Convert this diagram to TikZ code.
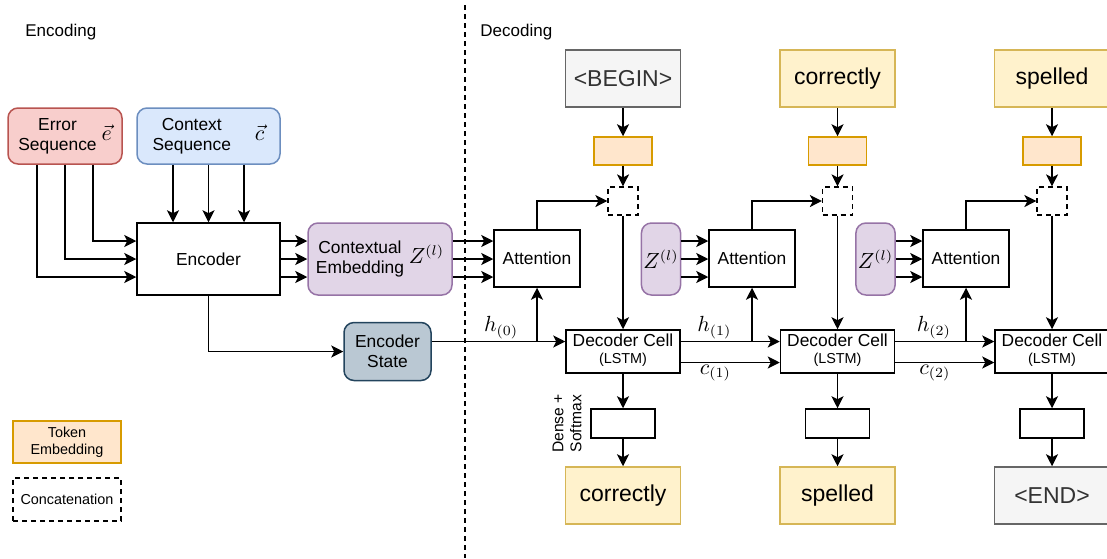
\documentclass[tikz,border=0pt]{standalone}
\usepackage{amsmath}
\usepackage{fontspec}
\setmainfont{Liberation Sans}
\usepackage{tikz}
\usetikzlibrary{arrows.meta,calc}

\definecolor{errfill}{HTML}{F8CECC}
\definecolor{errdraw}{HTML}{B85450}
\definecolor{ctxfill}{HTML}{DAE8FC}
\definecolor{ctxdraw}{HTML}{6C8EBF}
\definecolor{embfill}{HTML}{E1D5E7}
\definecolor{embdraw}{HTML}{9673A6}
\definecolor{tokfill}{HTML}{FFE6CC}
\definecolor{tokdraw}{HTML}{D79B00}
\definecolor{wrdfill}{HTML}{FFF2CC}
\definecolor{wrddraw}{HTML}{D6B656}
\definecolor{spcfill}{HTML}{F5F5F5}
\definecolor{spcdraw}{HTML}{666666}
\definecolor{stfill}{HTML}{BAC8D3}
\definecolor{stdraw}{HTML}{23445D}

\begin{document}
\begin{tikzpicture}[x=0.5pt,y=-0.5pt,
    box/.style={draw,line width=0.75pt,inner sep=1pt,align=center,font=\fontsize{8.7}{10}\selectfont},
    rbox/.style={box,rounded corners=5pt},
    wordbox/.style={box,minimum width=57.5pt,minimum height=28.5pt,font=\fontsize{11.5}{13}\selectfont},
    tokbox/.style={draw=tokdraw,fill=tokfill,line width=0.75pt,minimum width=29pt,minimum height=14pt},
    catbox/.style={draw,line width=0.6pt,dash pattern=on 2.5pt off 2pt,minimum width=15pt,minimum height=14pt},
    cellbox/.style={box,minimum width=57pt,minimum height=21.5pt},
    attbox/.style={box,minimum width=43pt,minimum height=28.5pt},
    zbox/.style={rbox,draw=embdraw,fill=embfill,minimum width=19pt,minimum height=36pt,font=\fontsize{10.5}{11}\selectfont},
    densebox/.style={box,minimum width=32pt,minimum height=14.5pt},
    conn/.style={line width=0.75pt,-{Stealth[length=6pt,width=6pt,inset=1.5pt]}},
    lbl/.style={font=\fontsize{10.5}{11}\selectfont,inner sep=1pt}
  ]
    \useasboundingbox (0,0) rectangle (1107,558);

    % Section titles and separator
    \node[anchor=west,inner sep=0pt,font=\fontsize{8.5}{9}\selectfont] (enctitle) at (25,32) {Encoding};
    \node[anchor=west,inner sep=0pt,font=\fontsize{8.5}{9}\selectfont] (dectitle) at (480,32) {Decoding};
    \draw[line width=0.6pt,dash pattern=on 2.5pt off 2pt] (465,5) -- (465,558);

    % Encoding side
    \node[rbox,draw=errdraw,fill=errfill,minimum width=57pt,minimum height=28pt] (errseq) at (65,136)
        {\begin{tabular}{@{}c@{}}Error\\Sequence\end{tabular}~{\fontsize{10.5}{11}\selectfont$\vec{e}$}};
    \node[rbox,draw=ctxdraw,fill=ctxfill,minimum width=71.5pt,minimum height=28pt] (ctxseq) at (208.5,136)
        {\begin{tabular}{@{}c@{}}Context\\Sequence\end{tabular}\hspace{12pt}{\fontsize{10.5}{11}\selectfont$\vec{c}$}};
    \node[box,minimum width=71.5pt,minimum height=36pt] (enc) at (208.5,259) {Encoder};
    \node[rbox,draw=embdraw,fill=embfill,minimum width=72pt,minimum height=36pt] (ctxemb) at (380,259)
        {\begin{tabular}{@{}c@{}}Contextual\\Embedding\end{tabular}~{\fontsize{10.5}{11}\selectfont$Z^{(l)}$}};
    \node[rbox,draw=stdraw,fill=stfill,minimum width=43.5pt,minimum height=29pt] (encst) at (387.5,351.5)
        {Encoder\\State};

    % Error sequence into encoder
    \draw[conn] ([xshift=14pt]errseq.south) |- ([yshift=9pt]enc.west);
    \draw[conn] (errseq.south) |- (enc.west);
    \draw[conn] ([xshift=-14pt]errseq.south) |- ([yshift=-9pt]enc.west);
    % Context sequence into encoder
    \draw[conn] ([xshift=-17.75pt]ctxseq.south) -- ([xshift=-17.75pt]enc.north);
    \draw[conn] (ctxseq.south) -- (enc.north);
    \draw[conn] ([xshift=17.75pt]ctxseq.south) -- ([xshift=17.75pt]enc.north);
    % Encoder outputs
    \draw[conn] ([yshift=9pt]enc.east) -- ([yshift=9pt]enc.east -| ctxemb.west);
    \draw[conn] (enc.east) -- (enc.east -| ctxemb.west);
    \draw[conn] ([yshift=-9pt]enc.east) -- ([yshift=-9pt]enc.east -| ctxemb.west);
    \draw[conn] (enc.south) |- (encst.west);

    % Decoding side: inputs
    \node[wordbox,draw=spcdraw,fill=spcfill,text=black!80] (in1) at (623,78.5) {<BEGIN>};
    \node[wordbox,draw=wrddraw,fill=wrdfill] (in2) at (837.5,78.5) {correctly};
    \node[wordbox,draw=wrddraw,fill=wrdfill] (in3) at (1052,78.5) {spelled};
    \node[tokbox] (tok1) at (623,151) {};
    \node[tokbox] (tok2) at (837.5,151) {};
    \node[tokbox] (tok3) at (1052,151) {};
    \node[catbox] (cat1) at (623,201) {};
    \node[catbox] (cat2) at (837.5,201) {};
    \node[catbox] (cat3) at (1052,201) {};

    % Attention blocks
    \node[attbox] (att1) at (537,258.5) {Attention};
    \node[attbox] (att2) at (752,258.5) {Attention};
    \node[attbox] (att3) at (966,258.5) {Attention};
    \node[zbox] (z2) at (661,259) {$Z^{(l)}$};
    \node[zbox] (z3) at (875.5,259) {$Z^{(l)}$};

    % Decoder cells
    \node[cellbox] (dec1) at (623,351.5) {Decoder Cell\\[-1.5pt]{\fontsize{7.2}{8}\selectfont (LSTM)}\rule[-2.5pt]{0pt}{0pt}};
    \node[cellbox] (dec2) at (837.5,351.5) {Decoder Cell\\[-1.5pt]{\fontsize{7.2}{8}\selectfont (LSTM)}\rule[-2.5pt]{0pt}{0pt}};
    \node[cellbox] (dec3) at (1052,351.5) {Decoder Cell\\[-1.5pt]{\fontsize{7.2}{8}\selectfont (LSTM)}\rule[-2.5pt]{0pt}{0pt}};

    % Outputs
    \node[densebox] (dense1) at (623,423.5) {};
    \node[densebox] (dense2) at (837.5,423.5) {};
    \node[densebox] (dense3) at (1052,423.5) {};
    \node[rotate=90,align=center,inner sep=0pt,font=\fontsize{7.8}{9}\selectfont] (dslbl) at (567,423.5) {Dense +\\Softmax};
    \node[wordbox,draw=wrddraw,fill=wrdfill] (out1) at (623,495.5) {correctly};
    \node[wordbox,draw=wrddraw,fill=wrdfill] (out2) at (837.5,495.5) {spelled};
    \node[wordbox,draw=spcdraw,fill=spcfill,text=black!80] (out3) at (1052,495.5) {<END>};

    % Vertical chains
    \draw[conn] (in1) -- (tok1);
    \draw[conn] (tok1) -- (cat1);
    \draw[conn] (cat1) -- (dec1);
    \draw[conn] (dec1) -- (dense1);
    \draw[conn] (dense1) -- (out1);
    \draw[conn] (in2) -- (tok2);
    \draw[conn] (tok2) -- (cat2);
    \draw[conn] (cat2) -- (dec2);
    \draw[conn] (dec2) -- (dense2);
    \draw[conn] (dense2) -- (out2);
    \draw[conn] (in3) -- (tok3);
    \draw[conn] (tok3) -- (cat3);
    \draw[conn] (cat3) -- (dec3);
    \draw[conn] (dec3) -- (dense3);
    \draw[conn] (dense3) -- (out3);

    % Keys into attention
    \draw[conn] ([yshift=9pt]ctxemb.east) -- ([yshift=9pt]ctxemb.east -| att1.west);
    \draw[conn] (ctxemb.east) -- (ctxemb.east -| att1.west);
    \draw[conn] ([yshift=-9pt]ctxemb.east) -- ([yshift=-9pt]ctxemb.east -| att1.west);
    \draw[conn] ([yshift=9pt]z2.east) -- ([yshift=9pt]z2.east -| att2.west);
    \draw[conn] (z2.east) -- (z2.east -| att2.west);
    \draw[conn] ([yshift=-9pt]z2.east) -- ([yshift=-9pt]z2.east -| att2.west);
    \draw[conn] ([yshift=9pt]z3.east) -- ([yshift=9pt]z3.east -| att3.west);
    \draw[conn] (z3.east) -- (z3.east -| att3.west);
    \draw[conn] ([yshift=-9pt]z3.east) -- ([yshift=-9pt]z3.east -| att3.west);

    % Attention into concatenation
    \draw[conn] (att1.north) |- (cat1.west);
    \draw[conn] (att2.north) |- (cat2.west);
    \draw[conn] (att3.north) |- (cat3.west);

    % Hidden and cell states
    \draw[conn,line width=0.9pt] ([yshift=5pt]encst.east) -- node[lbl,above,pos=0.52] {$h_{(0)}$} ([yshift=5pt]dec1.west);
    \draw[conn] ([yshift=5pt]dec1.west -| att1.south) -- (att1.south);
    \draw[conn,line width=0.9pt] ([yshift=5pt]dec1.east) -- node[lbl,above,pos=0.34] {$h_{(1)}$} ([yshift=5pt]dec2.west);
    \draw[conn] ([yshift=5pt]dec2.west -| att2.south) -- (att2.south);
    \draw[conn] ([yshift=-5.5pt]dec1.east) -- node[lbl,below,pos=0.35] {$c_{(1)}$} ([yshift=-5.5pt]dec2.west);
    \draw[conn,line width=0.9pt] ([yshift=5pt]dec2.east) -- node[lbl,above,pos=0.39] {$h_{(2)}$} ([yshift=5pt]dec3.west);
    \draw[conn] ([yshift=5pt]dec3.west -| att3.south) -- (att3.south);
    \draw[conn] ([yshift=-5.5pt]dec2.east) -- node[lbl,below,pos=0.4] {$c_{(2)}$} ([yshift=-5.5pt]dec3.west);

    % Legend
    \node[box,draw=tokdraw,fill=tokfill,minimum width=54pt,minimum height=21pt,font=\fontsize{7.2}{8.5}\selectfont] (legtok) at (67,442) {Token\\Embedding};
    \node[box,dash pattern=on 2.5pt off 2pt,minimum width=54pt,minimum height=21.5pt,font=\fontsize{7.2}{8.5}\selectfont] (legcat) at (67,499.5) {Concatenation};
\end{tikzpicture}
\end{document}
